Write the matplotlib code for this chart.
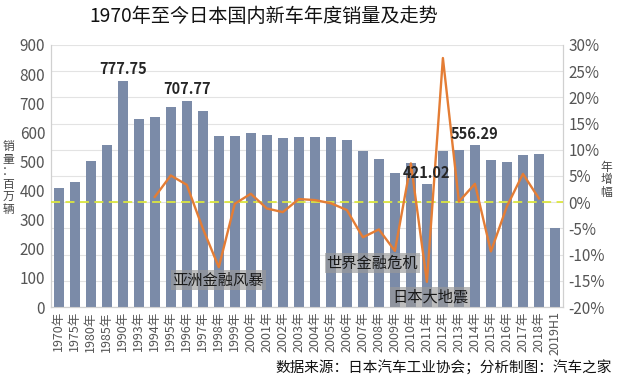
import matplotlib
matplotlib.use("Agg")
import matplotlib.pyplot as plt
import numpy as np

plt.rcParams['font.family'] = ['Noto Sans CJK SC', 'DejaVu Sans']

categories = ['1970年', '1975年', '1980年', '1985年', '1990年', '1993年', '1994年', '1995年',
              '1996年', '1997年', '1998年', '1999年', '2000年', '2001年', '2002年', '2003年',
              '2004年', '2005年', '2006年', '2007年', '2008年', '2009年', '2010年', '2011年',
              '2012年', '2013年', '2014年', '2015年', '2016年', '2017年', '2018年', '2019H1']
sales = [410, 431, 502, 556, 777.75, 647, 653, 686, 707.77, 672, 588, 586, 596, 591, 579, 583,
         585, 585, 574, 535, 508, 461, 496, 421.02, 537, 538, 556.29, 505, 497, 523, 527, 273]
# year-over-year growth (%), from 1994 to 2018
growth_start = 6
growth = [1.0, 5.1, 3.3, -5.0, -12.4, -0.3, 1.6, -1.2, -1.9, 0.6, 0.4, -0.2, -1.5, -6.7,
          -5.2, -9.3, 7.4, -15.2, 27.5, 0.1, 3.5, -9.4, -0.8, 5.4, 0.7]
value_labels = {4: '777.75', 8: '707.77', 23: '421.02', 26: '556.29'}
events = [('亚洲金融风暴', 9.97, 93), ('世界金融危机', 19.6, 151), ('日本大地震', 23.2, 34)]

bar_color = '#7b8ba8'
line_color = '#e47d35'

fig = plt.figure(figsize=(6.2, 3.84), dpi=100)
ax2 = fig.add_axes([0.0818, 0.2005, 0.908 - 0.0818, 0.883 - 0.2005])
ax = ax2.twinx()  # placeholder swap handled below
# use ax2 as the right (percent) axis, ax as the left (sales) axis
ax.yaxis.tick_left()
ax.yaxis.set_label_position('left')
ax2.yaxis.tick_right()

x = np.arange(len(categories))
ax.bar(x, sales, width=0.6, color=bar_color, zorder=2)
ax.set_xlim(-0.5, len(categories) - 0.5)
ax.set_ylim(0, 900)
ax.set_yticks(np.arange(0, 901, 100))
ax2.set_xlim(-0.5, len(categories) - 0.5)
ax2.grid(axis='y', color='#e3e3e3', linewidth=0.8, zorder=0)
ax2.set_axisbelow(True)
ax2.set_xticks(x)
ax2.set_xticklabels(categories, rotation=90, fontsize=9, color='#555555')
ax.tick_params(axis='x', bottom=False, labelbottom=False)
ax.tick_params(axis='y', labelsize=11, colors='#555555', length=0, pad=4)
ax2.tick_params(axis='x', length=0, pad=3)
for a in (ax, ax2):
    a.spines['top'].set_visible(False)
    for s in ['left', 'right', 'bottom']:
        a.spines[s].set_color('#d0d0d0')
        a.spines[s].set_linewidth(0.8)

for i, t in value_labels.items():
    ax.text(i, sales[i] + 12, t, ha='center', va='bottom', fontsize=10.5,
            fontweight='bold', color='#262626', zorder=6)

ax2.set_ylim(-20, 30)
ax2.set_yticks(np.arange(-20, 31, 5))
ax2.set_yticklabels([f'{v}%' for v in range(-20, 31, 5)])
ax2.tick_params(axis='y', labelsize=11, colors='#555555', length=0, pad=4)
# the percent grid lines coincide with the sales grid (both 10 intervals)

gx = np.arange(growth_start, growth_start + len(growth))
ax.plot(gx, growth, color=line_color, linewidth=1.7, zorder=4, transform=ax2.transData)
ax.plot([-0.5, len(categories) - 0.5], [0, 0], color='#dce640', linestyle=(0, (5, 3)),
        linewidth=1.3, zorder=3, transform=ax2.transData)

for txt, ex, ey in events:
    ax.text(ex, ey, txt, ha='center', va='center', fontsize=11, color='#1a1a1a', zorder=7,
            bbox=dict(boxstyle='square,pad=0.1', facecolor='#9a9a9a', edgecolor='none', alpha=0.65))

fig.text(263.5 / 620, 0.958, '1970年至今日本国内新车年度销量及走势', ha='center', va='center',
         fontsize=13.8, color='#111111')
fig.text(8 / 620, 1 - 178 / 384, '\n'.join('销量：百万辆'), ha='center', va='center',
         fontsize=8.5, color='#444444', linespacing=0.95)
fig.text(606 / 620, 1 - 180 / 384, '\n'.join('年增幅'), ha='center', va='center',
         fontsize=8.5, color='#444444', linespacing=0.95)
fig.text(612 / 620, 1 - 368 / 384, '数据来源：日本汽车工业协会；分析制图：汽车之家', ha='right', va='center',
         fontsize=10.5, color='#111111')

fig.savefig('out.png', dpi=100)
